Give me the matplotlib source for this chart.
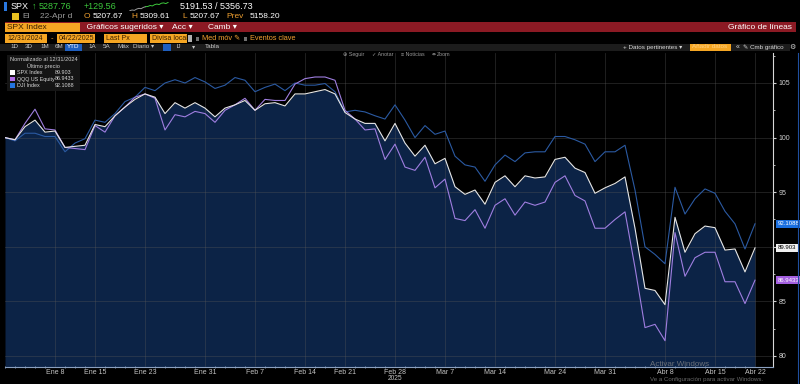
import matplotlib
matplotlib.use('Agg')
import matplotlib.pyplot as plt
from matplotlib.patches import Rectangle, Circle
from matplotlib.lines import Line2D
from matplotlib.transforms import blended_transform_factory

W, H = 800, 384

# normalizado al 12/31/2024 = 100, un valor por sesion (Dec 31 .. Apr 22)
spx = [100.0, 99.8, 101.0, 101.6, 100.5, 100.6, 99.1, 99.2, 99.3, 101.2,
       101.0, 102.0, 102.8, 103.5, 104.0, 103.7, 102.2, 103.2, 102.7, 103.2,
       102.7, 101.9, 102.7, 103.0, 103.4, 102.5, 103.1, 103.2, 102.9, 104.0,
       104.0, 104.2, 104.4, 104.0, 102.3, 101.7, 101.3, 101.3, 99.7, 101.3,
       99.5, 98.3, 99.3, 97.6, 98.1, 95.5, 94.8, 95.2, 93.9, 95.9,
       96.5, 95.5, 96.5, 96.3, 96.4, 98.0, 98.2, 97.2, 96.8, 94.9,
       95.4, 95.8, 96.4, 91.7, 86.2, 86.0, 84.7, 92.7, 89.5, 91.2,
       91.9, 91.75, 89.7, 89.8, 87.7, 89.903]
qqq = [100.0, 99.8, 101.3, 102.6, 100.8, 100.7, 99.1, 99.0, 98.9, 101.1,
       100.5, 102.0, 102.8, 103.7, 104.0, 103.6, 100.7, 102.1, 101.9, 102.4,
       102.2, 101.4, 102.5, 103.0, 103.6, 102.5, 103.5, 103.4, 103.4, 104.9,
       105.4, 105.55, 105.55, 105.25, 102.5, 101.7, 100.7, 100.8, 98.0, 99.4,
       97.3, 97.0, 98.2, 95.4, 96.2, 92.6, 92.4, 93.4, 91.7, 93.8,
       94.4, 92.9, 94.1, 93.8, 94.1, 95.9, 96.5, 94.7, 94.2, 91.7,
       91.7, 92.5, 93.2, 88.1, 82.6, 82.9, 81.4, 91.3, 87.3, 89.0,
       89.5, 89.5, 86.8, 86.8, 84.8, 86.9433]
dji = [100.0, 99.7, 100.4, 100.4, 100.1, 100.1, 98.7, 99.5, 99.9, 101.6,
       101.4, 102.2, 103.3, 103.7, 104.6, 104.3, 105.0, 105.3, 105.0, 105.5,
       105.1, 104.5, 104.8, 105.5, 105.25, 104.2, 104.6, 104.9, 104.3, 105.0,
       104.8, 104.8, 104.95, 104.2, 102.35, 102.5, 102.35, 102.0, 101.7, 103.0,
       101.6, 100.0, 101.1, 100.3, 100.6, 98.3, 97.5, 97.3, 96.0, 97.5,
       98.4, 97.8, 98.6, 98.7, 98.7, 100.1, 100.1, 99.8, 99.4, 97.8,
       98.7, 98.7, 99.3, 95.2, 90.0, 89.3, 88.45, 95.45, 93.0, 94.4,
       95.3, 94.9, 93.25, 92.1, 89.8, 92.1088]

tick_idx = [5, 9, 14, 20, 25, 30, 34, 39, 44, 49, 55, 60, 66, 71, 75]
tick_labels = ['Ene 8', 'Ene 15', 'Ene 23', 'Ene 31', 'Feb 7', 'Feb 14', 'Feb 21',
               'Feb 28', 'Mar 7', 'Mar 14', 'Mar 24', 'Mar 31', 'Abr 8', 'Abr 15', 'Abr 22']
y_ticks = [80, 85, 90, 95, 100, 105]
y_labels = ['80', '85', '', '95', '100', '105']  # el 90 queda tapado por la etiqueta

names = ['SPX Index', 'QQQ US Equity', 'DJI Index']
last_txt = ['89.903', '86.9433', '92.1088']
series = [spx, qqq, dji]
line_colors = ['#e6e6e6', '#9f7ee0', '#2b5aa2']
tag_colors = ['#f0f0f0', '#a35fe0', '#1a6fe0']
tag_text = ['black', 'white', 'white']

spark = [9.5, 9.0, 9.3, 8.2, 7.6, 7.9, 6.8, 6.2, 6.0, 5.2, 5.6, 4.5, 4.0, 4.4, 3.3, 3.0, 3.6, 2.6]

plt.rcParams['font.family'] = ['Liberation Sans', 'DejaVu Sans']

fig = plt.figure(figsize=(8, 3.84), dpi=100, facecolor='black')


def txt(x, y, s, color='white', size=6, **kw):
    fig.text(x / W, 1 - y / H, s, color=color, fontsize=size, va='center', **kw)


def box(x0, y0, x1, y1, color, z=1, alpha=1.0):
    fig.add_artist(Rectangle((x0 / W, 1 - y1 / H), (x1 - x0) / W, (y1 - y0) / H,
                             transform=fig.transFigure, color=color, zorder=z,
                             alpha=alpha, lw=0))


# --- grafico principal ---
ax_top, ax_bot = 53, 367
ax = fig.add_axes([5 / W, (H - ax_bot) / H, 768 / W, (ax_bot - ax_top) / H])
ax.set_facecolor('black')
ymin = 80 - (ax_bot - 356) / 10.92
ymax = 80 + (356 - ax_top) / 10.92
ax.set_ylim(ymin, ymax)
ax.set_xlim(0, 76.8)

x = list(range(len(spx)))
ax.fill_between(x, spx, ymin, color='#0c2346', lw=0, zorder=1)
for s, c in zip([dji, qqq, spx], [line_colors[2], line_colors[1], line_colors[0]]):
    ax.plot(x, s, color=c, lw=0.8, zorder=3)

ax.set_axisbelow(False)
ax.grid(True, color='#5a5a5a', lw=0.6, alpha=0.4)

ax.set_xticks(tick_idx, tick_labels)
ax.set_xticks(x, minor=True)
ax.set_yticks(y_ticks, y_labels)
ax.set_yticks([82.5, 87.5, 92.5, 97.5, 102.5, 107.5], minor=True)
ax.yaxis.tick_right()
ax.tick_params(axis='x', which='major', colors='#c4c4c4', labelsize=5, length=0, pad=1.5)
ax.tick_params(axis='x', which='minor', color='#8aa0c0', length=1.2, direction='inout')
ax.tick_params(axis='y', which='major', colors='#d0d0d0', labelsize=5, length=2.5, pad=1.5)
ax.tick_params(axis='y', which='minor', colors='#d0d0d0', length=1.2)
for side in ['left', 'top']:
    ax.spines[side].set_visible(False)
ax.spines['right'].set_color('#d8d8d8')
ax.spines['right'].set_linewidth(0.8)
ax.spines['bottom'].set_color('#8aa0c0')
ax.spines['bottom'].set_linewidth(0.8)

ax.text(39, -(378.5 - ax_bot) / (ax_bot - ax_top), '2025',
        transform=blended_transform_factory(ax.transData, ax.transAxes),
        color='#c4c4c4', fontsize=4.8, ha='center', va='center')

# etiquetas del ultimo valor
tr = blended_transform_factory(ax.transAxes, ax.transData)
for s, t, fc, tc in zip(series, last_txt, tag_colors, tag_text):
    ax.text(1.006, s[-1], t, transform=tr, fontsize=4.3, color=tc, va='center', ha='left',
            zorder=6, clip_on=False,
            bbox=dict(boxstyle='square,pad=0.25', fc=fc, ec='none'))

# --- cabecera ---
box(4, 2, 7, 11, '#2a78e0')
txt(11, 6.7, 'SPX', size=6.5)
txt(32, 6.7, '\u2191', color='#3cc83c', size=6.5)
txt(39, 6.7, '5287.76', color='#3cc83c', size=6.5)
txt(84, 6.7, '+129.56', color='#3cc83c', size=6.5)
txt(180, 6.7, '5191.53 / 5356.73', size=6.5)
sp = fig.add_axes([128 / W, 1 - 11 / H, 42 / W, 9 / H])
sp.axis('off')
n_grey = 7
sp.plot(range(n_grey + 1), spark[:n_grey + 1], color='#9a9a9a', lw=0.7)
sp.plot(range(n_grey, len(spark)), spark[n_grey:], color='#3cc83c', lw=0.7)
sp.invert_yaxis()

box(12, 13, 19, 20, '#e8c020')
txt(22, 16.7, 'El', color='#9a9a9a', size=6)
txt(40, 16.7, '22-Apr d', color='#9a9a9a', size=6)
txt(84, 16.7, 'O', color='#f0a030', size=6)
txt(93, 16.7, '5207.67', size=6)
txt(131, 16.7, 'H', color='#f0a030', size=6)
txt(140, 16.7, '5309.61', size=6)
txt(182, 16.7, 'L', color='#f0a030', size=6)
txt(190, 16.7, '5207.67', size=6)
txt(226, 16.7, 'Prev', color='#f0a030', size=6)
txt(250, 16.7, '5158.20', size=6)

# barra roja
box(5, 22, 796, 32, '#8c1a24')
box(5, 22.5, 80, 31.5, '#f5a623', z=2)
txt(7, 27.2, 'SPX Index', color='#3a2000', size=6)
txt(85, 27.2, '\u2009Gráficos sugeridos \u25be', size=6)
txt(172, 27.2, 'Acc \u25be', size=6)
txt(208, 27.2, 'Camb \u25be', size=6)
txt(792, 27.2, 'Gráfico de líneas', size=6, ha='right')

# fila de fechas
for x0, x1, s in [(5, 47, '12/31/2024'), (57, 95, '04/22/2025'),
                  (104, 147, 'Last Px'), (150, 187, 'Divisa local')]:
    box(x0, 34, x1, 43, '#f5a623', z=2)
    txt(x0 + 2, 38.5, s, color='#3a2000', size=5)
txt(51, 38.5, '-', color='#f0a030', size=5.5)
box(188, 35, 192, 42, '#b0b0b0', z=2)
box(196, 36.5, 199, 40.5, '#707070', z=2)
txt(202, 38.5, 'Med móv \u270e', color='#f0a030', size=5.3)
box(244, 36.5, 247, 40.5, '#707070', z=2)
txt(250, 38.5, 'Eventos clave', color='#f0a030', size=5.3)

# barra de herramientas
box(0, 43.5, 790, 51, '#1c1c1c')
for xx, s in [(10, '1D'), (25, '3D'), (40, '1M'), (55, '6M'), (88, '1A'),
              (103, '5A'), (117, 'Máx'), (133, 'Diario \u25be'), (177, 'lJ'),
              (192, '\u25be'), (205, 'Tabla')]:
    txt(xx, 47, s, color='#c8c8c8', size=4.5)
box(65, 44, 82, 50.5, '#1f5fbf', z=2)
txt(67, 47, 'YTD', size=4.5)
box(163, 44, 171, 50.5, '#1f5fbf', z=2)
txt(623, 47, '+ Datos pertinentes \u25be', color='#d8d8d8', size=4.5)
box(690, 44, 731, 50.5, '#f5a623', z=2)
txt(692, 47, 'Añadir datos', color='#ffd080', size=4.5)
txt(736, 47, '\u00ab', color='#d8d8d8', size=5)
txt(743, 47, '\u270e Cmb gráfico', color='#d8d8d8', size=4.5)
txt(789, 47, '\u2699', color='#d8d8d8', size=5)

for xx, s in [(343, '\u2295 Seguir'), (372, '\u2713 Anotar'),
              (401, '\u2261 Noticias'), (437, 'Zoom')]:
    txt(xx, 54.5, s, color='#9a9a9a', size=3.8)
# lupa del boton Zoom
fig.add_artist(Circle((434 / W, 1 - 54.2 / H), 1.3 / W, transform=fig.transFigure,
                      fill=False, ec='#9a9a9a', lw=0.5, zorder=3))

# leyenda
box(7, 55, 80, 91, '#161616', z=4, alpha=0.92)
txt(10, 59.5, 'Normalizado al 12/31/2024', color='#d0d0d0', size=4.1, zorder=5)
txt(27, 65.7, 'Último precio', color='#d0d0d0', size=4.1, zorder=5)
leg_sq = ['#ffffff', '#b26de8', '#2474e0']
for k, yy in enumerate([72.3, 79.0, 85.7]):
    box(10, yy - 2.3, 15, yy + 2.3, leg_sq[k], z=5)
    txt(17, yy, names[k], color='#d8d8d8', size=3.9, zorder=5)
    txt(55, yy, last_txt[k], color='#d8d8d8', size=3.9, zorder=5)

# borde derecho
fig.add_artist(Line2D([797.5 / W, 797.5 / W], [0, 1 - 53 / H], color='#1f4f9f', lw=0.8))

# marca de agua
txt(650, 364.5, 'Activar Windows', color='#8a8a8a', size=5.8, alpha=0.75, zorder=6)
txt(650, 379.5, 'Ve a Configuración para activar Windows.', color='#8a8a8a', size=4.4,
    alpha=0.75, zorder=6)

fig.savefig('out.png', dpi=100, facecolor='black')
